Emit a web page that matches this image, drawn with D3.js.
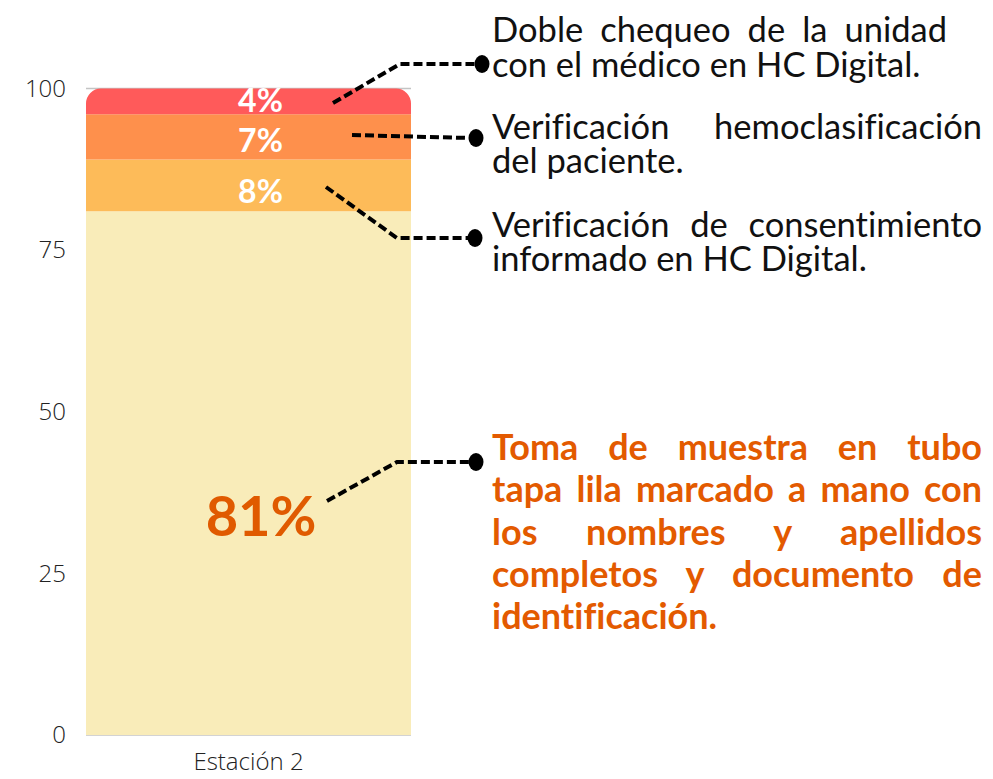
<!DOCTYPE html>
<html>
<head>
<meta charset="utf-8">
<script src="https://cdn.jsdelivr.net/npm/d3@7"></script>
<style>
  html, body { margin: 0; padding: 0; background: #fff; }
  svg { display: block; }
  text { font-variant-ligatures: none; }
</style>
</head>
<body>
<svg id="chart"></svg>
<script>
const categories = ['Estación 2'];
const seriesNames = ['Toma de muestra', 'Consentimiento', 'Hemoclasificación', 'Doble chequeo'];
const seriesValues = [81, 8, 7, 4];
const seriesColors = ['#f9ecb9', '#fdbb59', '#fe904c', '#ff5a5a'];
const yTicks = [0, 25, 50, 75, 100];

// annotation text, one entry per series (lines as shown)
const noteLines = [
  ['Toma de muestra en tubo', 'tapa lila marcado a mano con', 'los nombres y apellidos', 'completos y documento de', 'identificación.'],
  ['Verificación de consentimiento', 'informado en HC Digital.'],
  ['Verificación hemoclasificación', 'del paciente.'],
  ['Doble chequeo de la unidad', 'con el médico en HC Digital.']
];

const width = 993;
const height = 779;
const margin = { top: 88.5, right: 10, bottom: 44, left: 86 };

const svg = d3.select('#chart')
  .attr('width', width)
  .attr('height', height);

const x = d3.scaleBand()
  .domain(categories)
  .range([margin.left, 411])
  .paddingInner(0)
  .paddingOuter(0);

const y = d3.scaleLinear()
  .domain([0, 100])
  .range([height - margin.bottom, margin.top]);

// gridlines (sit behind the bar)
svg.append('g')
  .selectAll('line')
  .data(yTicks)
  .enter()
  .append('line')
  .attr('x1', margin.left)
  .attr('x2', 411)
  .attr('y1', d => y(d))
  .attr('y2', d => y(d))
  .attr('stroke', '#c4c4c4')
  .attr('stroke-width', 1.5);

const yAxis = svg.append('g')
  .attr('transform', `translate(${66},0)`)
  .call(d3.axisLeft(y).tickValues(yTicks).tickSize(0).tickPadding(0));
yAxis.select('.domain').remove();
yAxis.selectAll('text')
  .attr('font-family', '"Open Sans", sans-serif')
  .attr('font-weight', 300)
  .attr('font-size', 24)
  .attr('fill', '#222');

const xAxis = svg.append('g')
  .attr('transform', `translate(0,${height - margin.bottom})`)
  .call(d3.axisBottom(x).tickSize(0).tickPadding(18));
xAxis.select('.domain').remove();
xAxis.selectAll('text')
  .attr('font-family', '"Open Sans", sans-serif')
  .attr('font-weight', 300)
  .attr('font-size', 24)
  .attr('fill', '#222');

const stackData = [{ cat: categories[0] }];
seriesNames.forEach((s, i) => { stackData[0][s] = seriesValues[i]; });
const stacked = d3.stack().keys(seriesNames)(stackData);

const r = 15;
const bw = x.bandwidth();
const segPath = (x0, y0, y1, rounded) => {
  const p = d3.path();
  if (!rounded) {
    p.rect(x0, y1, bw, y0 - y1);
    return p.toString();
  }
  p.moveTo(x0, y0);
  p.lineTo(x0, y1 + r);
  p.arcTo(x0, y1, x0 + r, y1, r);
  p.lineTo(x0 + bw - r, y1);
  p.arcTo(x0 + bw, y1, x0 + bw, y1 + r, r);
  p.lineTo(x0 + bw, y0);
  p.closePath();
  return p.toString();
};

const last = stacked.length - 1;
stacked.forEach((layer, i) => {
  const d = layer[0];
  svg.append('path')
    .attr('d', segPath(x(d.data.cat), y(d[0]), y(d[1]), i === last))
    .attr('fill', seriesColors[i]);
});

// value labels
const labelShift = [0, 18, 15, 11];
stacked.forEach((layer, i) => {
  const d = layer[0];
  const mid = (y(d[0]) + y(d[1])) / 2;
  const cx = x(d.data.cat) + bw / 2;
  if (i === 0) {
    svg.append('text')
      .attr('x', cx + 68)
      .attr('y', y(d[1] * 0.38))
      .attr('text-anchor', 'end')
      .attr('font-family', 'Lato, sans-serif')
      .attr('font-weight', 700)
      .attr('font-size', 56)
      .attr('fill', '#e05a00')
      .text(`${seriesValues[i]}%`);
  } else {
    svg.append('text')
      .attr('x', cx + 12)
      .attr('y', mid + labelShift[i])
      .attr('text-anchor', 'middle')
      .attr('font-family', 'Lato, sans-serif')
      .attr('font-weight', 700)
      .attr('font-size', 32)
      .attr('fill', '#fff')
      .text(`${seriesValues[i]}%`);
  }
});

// connector lines
const conn = [
  { pts: [[327, 501], [397, 462], [470, 462]], dot: [476, 462] },
  { pts: [[326, 187], [397, 238], [470, 238]], dot: [475, 238] },
  { pts: [[352, 135], [470, 138]], dot: [476, 138] },
  { pts: [[333, 103], [400, 64], [476, 64]], dot: [482, 64] }
];
conn.forEach(c => {
  svg.append('path')
    .attr('d', d3.line()(c.pts))
    .attr('fill', 'none')
    .attr('stroke', '#000')
    .attr('stroke-width', 4)
    .attr('stroke-dasharray', '9,4');
  svg.append('ellipse')
    .attr('cx', c.dot[0])
    .attr('cy', c.dot[1])
    .attr('rx', 7.5)
    .attr('ry', 9)
    .attr('fill', '#000');
});

// justified annotation text
const blocks = [
  { x: 492, right: 982, y0: 460, lh: 42.3, size: 36, weight: 700, color: '#e35a00' },
  { x: 492, right: 982, y0: 237, lh: 33.5, size: 34.5, weight: 400, color: '#111' },
  { x: 492, right: 982, y0: 139, lh: 33.5, size: 34.5, weight: 400, color: '#111' },
  { x: 492, right: 947, y0: 42, lh: 35, size: 34.5, weight: 400, color: '#111' }
];

blocks.forEach((b, i) => {
  const lines = noteLines[i];
  lines.forEach((line, j) => {
    const t = svg.append('text')
      .attr('x', b.x)
      .attr('y', b.y0 + j * b.lh)
      .attr('font-family', 'Lato, sans-serif')
      .attr('font-weight', b.weight)
      .attr('font-size', b.size)
      .attr('fill', b.color)
      .text(line);
    const n = line.split(' ').length;
    if (j < lines.length - 1 && n > 1) {
      const extra = (b.right - b.x - t.node().getComputedTextLength()) / (n - 1);
      t.attr('word-spacing', extra);
    }
  });
});
</script>
</body>
</html>
